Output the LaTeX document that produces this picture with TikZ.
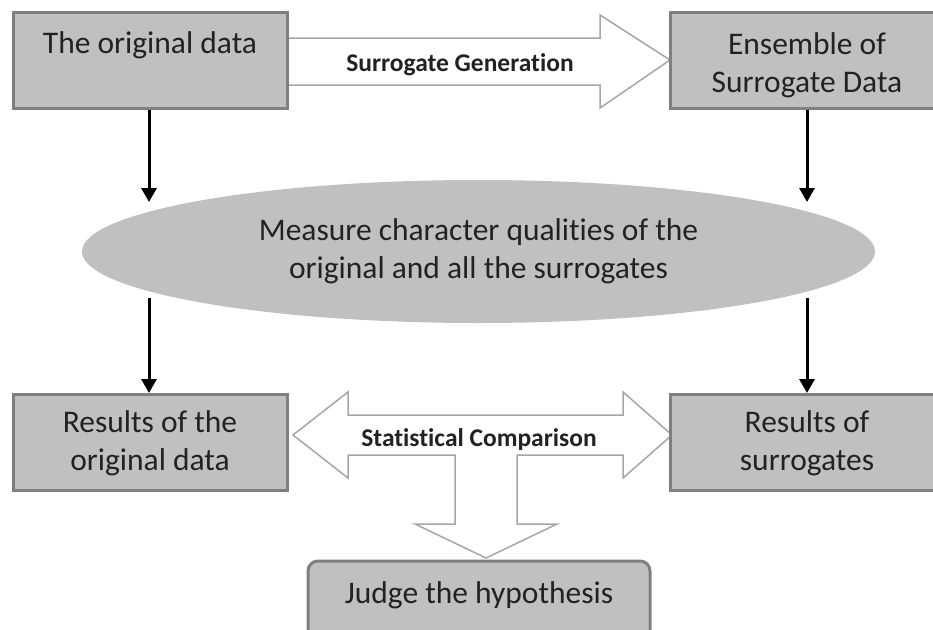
\documentclass[tikz,border=0pt]{standalone}
\usepackage{fontspec}
\setmainfont{Carlito}[Ligatures=NoCommon]
\usetikzlibrary{arrows.meta,shapes.geometric,backgrounds}
\definecolor{boxfill}{HTML}{C0C0C0}
\definecolor{boxline}{HTML}{7F7F7F}
\definecolor{arrline}{HTML}{A6A6A6}
\definecolor{txt}{HTML}{222222}
\begin{document}
\begin{tikzpicture}[x=1pt,y=-1pt,
  box/.style={draw=boxline, line width=3pt, fill=boxfill, minimum width=274pt,
    minimum height=96pt, inner sep=0pt, align=center, text=txt,
    font=\fontsize{31.5}{38}\selectfont},
  blockarrow/.style={draw=arrline, line width=1.5pt, fill=white, line join=miter},
  flow/.style={line width=3pt, draw=black, -{Triangle[width=15pt,length=14pt]}},
  lbl/.style={font=\bfseries\fontsize{25.5}{30}\selectfont, text=txt, inner sep=0pt}]
\useasboundingbox (0,0) rectangle (933,629);

% boxes
\node[box, text height=8pt, text depth=22pt] (orig) at (150,60) {The original data};
\node[box, text height=70pt, text depth=6pt] (ens) at (807,60) {Ensemble of\\Surrogate Data};
\node[ellipse, fill=boxfill, minimum width=793pt, minimum height=143pt, inner sep=0pt,
  align=center, text=txt, font=\fontsize{31.5}{38}\selectfont] (meas) at (478.5,251.5)
  {Measure character qualities of the\\original and all the surrogates};
\node[box, text height=62pt, text depth=7pt] (resorig) at (150,442.5) {Results of the\\original data};
\node[box, text height=62pt, text depth=7pt] (ressur) at (807,442.5) {Results of\\surrogates};
\node[box, rounded corners=10pt, minimum width=342pt, minimum height=80pt,
  text height=22pt, text depth=18pt] (judge) at (479,601) {Judge the hypothesis};

% block arrows (behind boxes)
\begin{pgfonlayer}{background}
\draw[blockarrow] (287,38) -- (600,38) -- (600,15) -- (670,60) -- (600,108) -- (600,85) -- (287,85);
\draw[blockarrow] (293,435) -- (348,392) -- (348,415) -- (623,415) -- (623,392) -- (672,435)
  -- (623,478) -- (623,455) -- (517,455) -- (517,524) -- (557,524) -- (486,558)
  -- (415,524) -- (455,524) -- (455,455) -- (348,455) -- (348,478) -- cycle;
\end{pgfonlayer}
\node[lbl] (gen) at (460,65) {Surrogate Generation};
\node[lbl] (comp) at (479,440) {Statistical Comparison};

% flow arrows
\coordinate (a1) at (149,202);
\coordinate (a2) at (807,202);
\coordinate (b1) at (149,298);
\coordinate (b2) at (807,298);
\draw[flow] (orig.south -| a1) -- (a1);
\draw[flow] (ens.south) -- (a2);
\draw[flow] (b1) -- (resorig.north -| b1);
\draw[flow] (b2) -- (ressur.north);
\end{tikzpicture}
\end{document}
